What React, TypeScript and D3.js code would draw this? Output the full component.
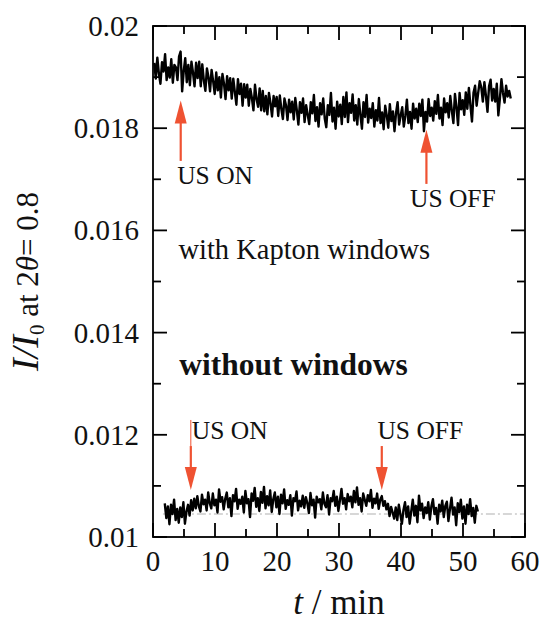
import React from "react";
import * as d3 from "d3";

// sampled intensity traces, one value every 0.25 min
const sampleStep = 0.25;
const kaptonStart = 0.2;
const kaptonValues = [
  0.01928, 0.01897, 0.01938, 0.01907, 0.01887, 0.01929, 0.01911, 0.01945, 0.01894, 0.01919,
  0.01899, 0.01935, 0.01889, 0.01924, 0.01919, 0.01894, 0.0194, 0.0195, 0.01872, 0.01911,
  0.01937, 0.0189, 0.01924, 0.01884, 0.0193, 0.01909, 0.01882, 0.01928, 0.01898, 0.0193,
  0.01882, 0.01925, 0.01893, 0.01873, 0.01917, 0.019, 0.01872, 0.01914, 0.01892, 0.01867,
  0.01909, 0.01874, 0.019, 0.0186, 0.01906, 0.01887, 0.01857, 0.01902, 0.01874, 0.01898,
  0.01858, 0.01897, 0.01871, 0.01846, 0.01896, 0.01867, 0.01887, 0.01844, 0.01886, 0.0186,
  0.01885, 0.01844, 0.01877, 0.01859, 0.01835, 0.01885, 0.01857, 0.01842, 0.01878, 0.01835,
  0.01873, 0.01833, 0.01863, 0.01827, 0.01869, 0.01849, 0.01823, 0.01863, 0.01843, 0.01861,
  0.01824, 0.01864, 0.01838, 0.01818, 0.01858, 0.01845, 0.01816, 0.01856, 0.01831, 0.01852,
  0.01817, 0.01859, 0.01835, 0.01807, 0.01851, 0.0183, 0.01858, 0.01812, 0.01845, 0.01826,
  0.01808, 0.01851, 0.01829, 0.01865, 0.01814, 0.01841, 0.01803, 0.01849, 0.01827, 0.01858,
  0.01819, 0.01802, 0.01845, 0.01826, 0.01869, 0.01813, 0.0184, 0.01799, 0.01852, 0.01823,
  0.01846, 0.01808, 0.01861, 0.01822, 0.0187, 0.01812, 0.01849, 0.0183, 0.01866, 0.01815,
  0.01845, 0.01807, 0.01857, 0.01826, 0.01799, 0.01851, 0.01822, 0.01865, 0.01811, 0.01838,
  0.0182, 0.01849, 0.01803, 0.01835, 0.01815, 0.01859, 0.0181, 0.01831, 0.01798, 0.01844,
  0.01825, 0.01801, 0.01847, 0.01814, 0.01833, 0.01794, 0.0183, 0.01851, 0.01807, 0.01825,
  0.01841, 0.01803, 0.01824, 0.01856, 0.0181, 0.01832, 0.01799, 0.01848, 0.01819, 0.01838,
  0.01812, 0.01848, 0.01824, 0.01856, 0.01794, 0.01832, 0.01813, 0.01857, 0.01824, 0.0184,
  0.01815, 0.01853, 0.01828, 0.01865, 0.01819, 0.0184, 0.01806, 0.01858, 0.01831, 0.01849,
  0.01821, 0.01863, 0.01834, 0.0181, 0.01867, 0.01841, 0.01806, 0.01869, 0.01837, 0.01855,
  0.01826, 0.0187, 0.01838, 0.01879, 0.01844, 0.01813, 0.0187, 0.01883, 0.01844, 0.01869,
  0.01892, 0.0188, 0.01852, 0.0189, 0.01863, 0.01832, 0.01882, 0.01895, 0.01854, 0.01877,
  0.01852, 0.01887, 0.01825, 0.01858, 0.01896, 0.01869, 0.0185, 0.01883, 0.01862, 0.01873, 0.01858,
];

const bareStart = 1.9;
const bareValues = [
  0.01066, 0.01037, 0.0106, 0.01025, 0.01063, 0.01045, 0.01073, 0.01033, 0.01055, 0.01028,
  0.01058, 0.01039, 0.01068, 0.01026, 0.0105, 0.01063, 0.01042, 0.01072, 0.01052, 0.01075,
  0.01056, 0.0108, 0.0106, 0.0105, 0.01083, 0.01064, 0.01073, 0.01052, 0.01087, 0.01066,
  0.01056, 0.01085, 0.01062, 0.01073, 0.01048, 0.01093, 0.01069, 0.01078, 0.01054, 0.01075,
  0.01087, 0.01058, 0.01076, 0.01041, 0.01082, 0.0107, 0.01094, 0.01055, 0.01073, 0.01065,
  0.01079, 0.01048, 0.0109, 0.01066, 0.01074, 0.01039, 0.01085, 0.01071, 0.01096, 0.01059,
  0.01076, 0.01051, 0.01088, 0.01067, 0.01098, 0.01056, 0.0108, 0.01062, 0.01091, 0.01049,
  0.01074, 0.01087, 0.01058, 0.01079, 0.01045, 0.01083, 0.01066, 0.01093, 0.01055, 0.01072,
  0.01063, 0.01082, 0.01042, 0.01076, 0.0107, 0.01089, 0.01052, 0.01071, 0.0106, 0.01081,
  0.01057, 0.01078, 0.01066, 0.01047, 0.01086, 0.01062, 0.01073, 0.01038, 0.01079, 0.01068,
  0.01074, 0.01054, 0.01087, 0.01065, 0.01058, 0.01082, 0.01044, 0.01076, 0.0107, 0.0109,
  0.01061, 0.01079, 0.01051, 0.01072, 0.01094, 0.01065, 0.01076, 0.01054, 0.01084, 0.0107,
  0.01079, 0.01058, 0.0109, 0.01068, 0.01097, 0.01063, 0.01076, 0.0105, 0.01085, 0.01073,
  0.01061, 0.01082, 0.0107, 0.01092, 0.01057, 0.01075, 0.01066, 0.01085, 0.01055, 0.01073,
  0.0108, 0.01061, 0.0107, 0.01054, 0.01065, 0.01041, 0.01059, 0.01048, 0.01036, 0.01058,
  0.01033, 0.01063, 0.01044, 0.01026, 0.01053, 0.01068, 0.01039, 0.0106, 0.01026, 0.0105,
  0.01073, 0.01042, 0.01061, 0.01029, 0.01081, 0.01052, 0.01065, 0.01037, 0.01058, 0.01047,
  0.01068, 0.01034, 0.0106, 0.01074, 0.01045, 0.01057, 0.01026, 0.01063, 0.0105, 0.01071,
  0.01039, 0.01061, 0.01069, 0.01031, 0.01055, 0.01077, 0.01044, 0.01058, 0.01023, 0.01066,
  0.01049, 0.01073, 0.01036, 0.0106, 0.01026, 0.01063, 0.01045, 0.01074, 0.01041, 0.01057,
  0.01028, 0.01061, 0.0105,
];

// reference level of the bare trace (dash-dot)
const bareBaseline = { value: 0.01045, from: 1.6 };

const xTicks = [0, 10, 20, 30, 40, 50, 60];
const xMinorTicks = [5, 15, 25, 35, 45, 55];
const yTicks = [0.01, 0.012, 0.014, 0.016, 0.018, 0.02];
const yMinorTicks = [0.011, 0.013, 0.015, 0.017, 0.019];

// arrows: time, tip value, tail value
const upArrows = [
  { t: 4.47, tip: 0.01854, tail: 0.01736 },
  { t: 44.1, tip: 0.01797, tail: 0.01691 },
];
const downArrows = [
  { t: 6.1, tip: 0.01092, tail: 0.01178, lead: 0.01229 },
  { t: 36.9, tip: 0.01092, tail: 0.01178, lead: null },
];
const notes = [
  { text: "US ON", t: 3.9, v: 0.0169, size: 25.5, bold: false },
  { text: "US OFF", t: 41.45, v: 0.01645, size: 25.5, bold: false },
  { text: "with Kapton windows", t: 4.1, v: 0.01545, size: 28.5, bold: false },
  { text: "without windows", t: 4.25, v: 0.01318, size: 31.5, bold: true },
  { text: "US ON", t: 6.25, v: 0.01191, size: 25.5, bold: false },
  { text: "US OFF", t: 36.2, v: 0.01191, size: 25.5, bold: false },
];

const W = 543;
const H = 624;
const plot = { left: 153, right: 525, top: 26, bottom: 537 };
const serif = "Liberation Serif, Times New Roman, serif";
const red = "#ef5232";

export default function App() {
  const x = d3.scaleLinear().domain([0, 60]).range([plot.left, plot.right]);
  const y = d3.scaleLinear().domain([0.01, 0.02]).range([plot.bottom, plot.top]);
  const fmt = d3.format(".3~f");

  const trace = (start: number) =>
    d3
      .line<number>()
      .x((_, i) => x(start + i * sampleStep))
      .y((d) => y(d));

  const major = 14;
  const minor = 8;
  const headLen = 23;
  const headHalf = 6;

  return (
    <svg
      width={W}
      height={H}
      style={{ position: "absolute", left: 0, top: 0, background: "#fff", fontFamily: serif }}
    >
      {/* baseline of the bare trace */}
      <line
        x1={x(bareBaseline.from)}
        x2={plot.right}
        y1={y(bareBaseline.value)}
        y2={y(bareBaseline.value)}
        stroke="#b0b0b0"
        strokeWidth={1.2}
        strokeDasharray="9,3,2,3"
      />

      <path d={trace(kaptonStart)(kaptonValues) || ""} fill="none" stroke="#000" strokeWidth={2.4} strokeLinejoin="round" />
      <path d={trace(bareStart)(bareValues) || ""} fill="none" stroke="#000" strokeWidth={2.4} strokeLinejoin="round" />

      {/* frame and ticks */}
      <rect
        x={plot.left}
        y={plot.top}
        width={plot.right - plot.left}
        height={plot.bottom - plot.top}
        fill="none"
        stroke="#000"
        strokeWidth={1.8}
      />
      <g stroke="#000" strokeWidth={1.8}>
        {xTicks.map((t) => (
          <g key={"xt" + t}>
            <line x1={x(t)} x2={x(t)} y1={plot.bottom} y2={plot.bottom - major} />
            <line x1={x(t)} x2={x(t)} y1={plot.top} y2={plot.top + major} />
          </g>
        ))}
        {xMinorTicks.map((t) => (
          <g key={"xm" + t}>
            <line x1={x(t)} x2={x(t)} y1={plot.bottom} y2={plot.bottom - minor} />
            <line x1={x(t)} x2={x(t)} y1={plot.top} y2={plot.top + minor} />
          </g>
        ))}
        {yTicks.map((v) => (
          <g key={"yt" + v}>
            <line x1={plot.left} x2={plot.left + major} y1={y(v)} y2={y(v)} />
            <line x1={plot.right} x2={plot.right - major} y1={y(v)} y2={y(v)} />
          </g>
        ))}
        {yMinorTicks.map((v) => (
          <g key={"ym" + v}>
            <line x1={plot.left} x2={plot.left + minor} y1={y(v)} y2={y(v)} />
            <line x1={plot.right} x2={plot.right - minor} y1={y(v)} y2={y(v)} />
          </g>
        ))}
      </g>

      {/* tick labels */}
      <g fontSize={29} fill="#111" fontFamily={serif}>
        {xTicks.map((t) => (
          <text key={"xl" + t} x={x(t)} y={plot.bottom + 34} textAnchor="middle">
            {t}
          </text>
        ))}
        {yTicks.map((v) => (
          <text key={"yl" + v} x={plot.left - 14} y={y(v)} textAnchor="end" dominantBaseline="central">
            {fmt(v)}
          </text>
        ))}
      </g>

      {/* axis titles */}
      <text
        x={(plot.left + plot.right) / 2}
        y={614}
        textAnchor="middle"
        fontSize={35}
        fill="#111"
        fontFamily={serif}
      >
        <tspan fontStyle="italic">t</tspan>
        <tspan> / min</tspan>
      </text>
      <text
        transform={`translate(38, ${(plot.top + plot.bottom) / 2}) rotate(-90)`}
        textAnchor="middle"
        fill="#111"
        fontSize={31}
        fontFamily={serif}
      >
        <tspan fontStyle="italic" fontSize={38}>I/I</tspan>
        <tspan fontSize={21} dy={6}>0</tspan>
        <tspan dy={-6}> at 2</tspan>
        <tspan fontStyle="italic">θ</tspan>
        <tspan>= 0.8</tspan>
      </text>

      {/* annotations */}
      {notes.map((n, i) => (
        <text
          key={"n" + i}
          x={x(n.t)}
          y={y(n.v)}
          fontSize={n.size}
          fontWeight={n.bold ? "bold" : "normal"}
          fill="#111"
          fontFamily={serif}
        >
          {n.text}
        </text>
      ))}
      {upArrows.map((a, i) => {
        const cx = x(a.t);
        const tipY = y(a.tip);
        return (
          <g key={"ua" + i}>
            <line x1={cx} x2={cx} y1={y(a.tail)} y2={tipY + headLen - 2} stroke={red} strokeWidth={2.2} />
            <path
              d={`M${cx},${tipY} L${cx - headHalf},${tipY + headLen} L${cx + headHalf},${tipY + headLen} Z`}
              fill={red}
            />
          </g>
        );
      })}
      {downArrows.map((a, i) => {
        const cx = x(a.t);
        const tipY = y(a.tip);
        return (
          <g key={"da" + i}>
            {a.lead !== null && (
              <line x1={cx} x2={cx} y1={y(a.lead)} y2={y(a.tail)} stroke={red} strokeWidth={1} />
            )}
            <line x1={cx} x2={cx} y1={y(a.tail)} y2={tipY - headLen + 2} stroke={red} strokeWidth={2.2} />
            <path
              d={`M${cx},${tipY} L${cx - headHalf},${tipY - headLen} L${cx + headHalf},${tipY - headLen} Z`}
              fill={red}
            />
          </g>
        );
      })}
    </svg>
  );
}
